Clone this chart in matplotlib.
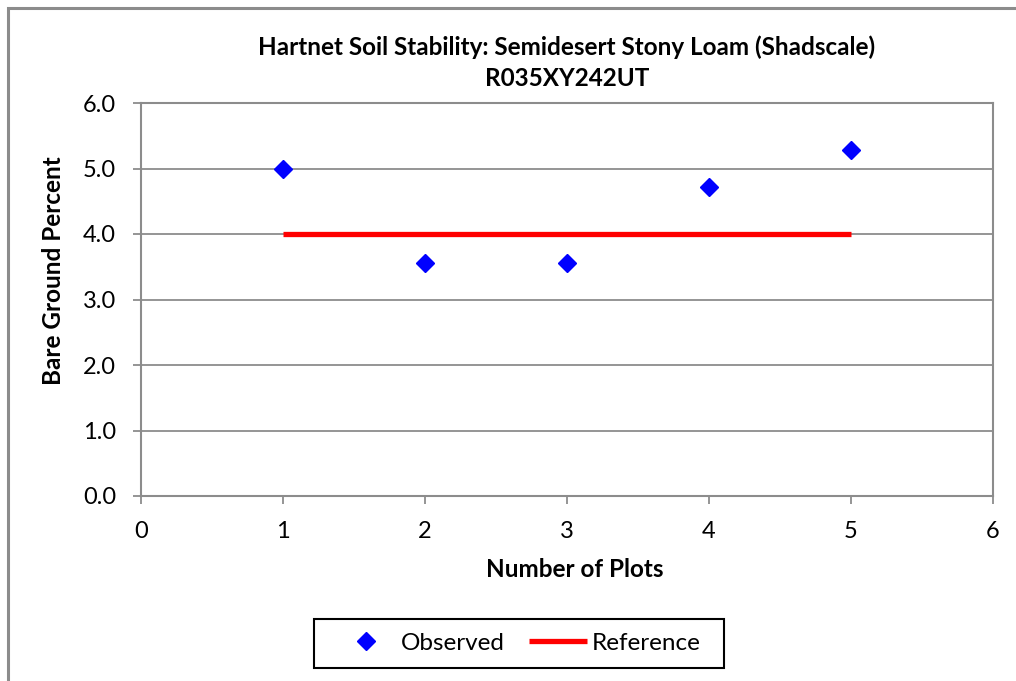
"""Hartnet soil stability chart: observed bare ground vs reference."""

import matplotlib

matplotlib.use("Agg")
import matplotlib.pyplot as plt
from matplotlib.patches import Rectangle

plt.rcParams["font.family"] = ["Lato", "DejaVu Sans"]

plot_numbers = [1, 2, 3, 4, 5]
observed = [5.0, 3.56, 3.56, 4.72, 5.28]
reference_x = [1, 5]
reference_y = [4.0, 4.0]

x_ticks = [0, 1, 2, 3, 4, 5, 6]
y_ticks = [0.0, 1.0, 2.0, 3.0, 4.0, 5.0, 6.0]

GREY = "#8c8c8c"
W, H = 1016, 681

fig = plt.figure(figsize=(W / 100, H / 100), dpi=100)
ax = fig.add_axes([141 / W, 1 - 496 / H, 852 / W, 393 / H])

# outer chart border (cut off on right and bottom)
fig.patches.append(Rectangle((8 / W, -0.05), 1.2, 1 - 8 / H + 0.05,
                             transform=fig.transFigure, fill=False,
                             edgecolor=GREY, lw=2.2, zorder=0))

ax.set_axisbelow(True)
ax.grid(True, axis="y", color=GREY, lw=1.3)
ax.plot(reference_x, reference_y, color="#ff0000", lw=3.8, label="Reference",
        solid_capstyle="butt", zorder=3)
ax.plot(plot_numbers, observed, "D", color="#0000ff", markersize=9.5,
        label="Observed", zorder=4)

ax.set_xlim(0, 6)
ax.set_ylim(0, 6)
ax.set_xticks(x_ticks)
ax.set_yticks(y_ticks)
ax.set_yticklabels([f"{v:.1f}" for v in y_ticks])
for spine in ax.spines.values():
    spine.set_color(GREY)
    spine.set_linewidth(1.5)
ax.tick_params(direction="out", length=6, width=1.3, color=GREY,
               labelsize=17, pad=12)

ax.set_xlabel("Number of Plots", fontsize=17.5, fontweight="bold")
ax.xaxis.set_label_coords(0.509, -0.158)
ax.set_ylabel("Bare Ground Percent", fontsize=17.5, fontweight="bold")
ax.yaxis.set_label_coords(-0.089, 0.573)
ax.set_title("Hartnet Soil Stability: Semidesert Stony Loam (Shadscale)\nR035XY242UT",
             fontsize=17.5, fontweight="bold", pad=12, linespacing=1.45)

handles, labels = ax.get_legend_handles_labels()
leg = fig.legend(handles[::-1], labels[::-1], loc="center",
                 bbox_to_anchor=(519 / W, 1 - 643 / H), ncol=2,
                 fontsize=17.5, frameon=False,
                 handlelength=2.4, handletextpad=0.2, columnspacing=1.0,
                 borderpad=0.45, borderaxespad=0)
# legend box drawn separately so its padding matches the original
fig.patches.append(Rectangle((314 / W, 1 - 668 / H), 410 / W, 49 / H,
                             transform=fig.transFigure, fill=False,
                             edgecolor="black", lw=1.5))

fig.savefig("out.png", dpi=100)
